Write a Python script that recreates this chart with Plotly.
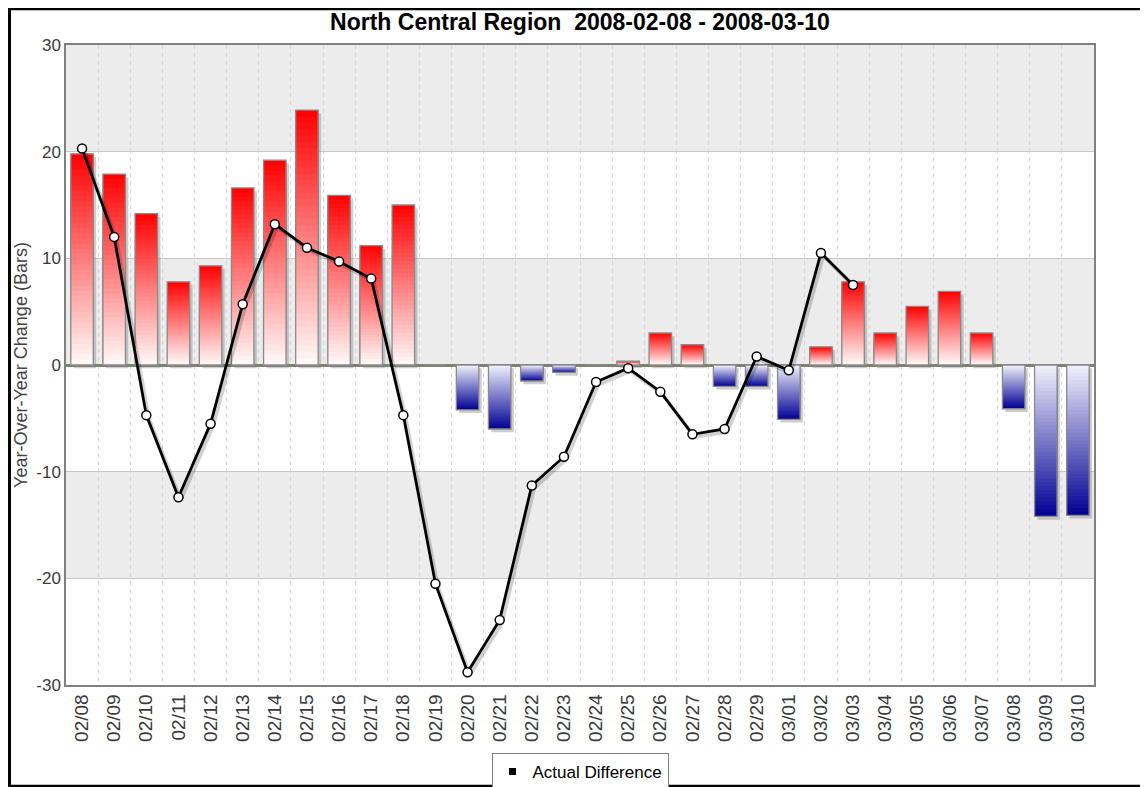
import plotly.graph_objects as go

categories = ["02/08", "02/09", "02/10", "02/11", "02/12", "02/13", "02/14", "02/15",
              "02/16", "02/17", "02/18", "02/19", "02/20", "02/21", "02/22", "02/23",
              "02/24", "02/25", "02/26", "02/27", "02/28", "02/29", "03/01", "03/02",
              "03/03", "03/04", "03/05", "03/06", "03/07", "03/08", "03/09", "03/10"]

bar_values = [19.8, 17.9, 14.2, 7.8, 9.3, 16.6, 19.2, 23.9, 15.9, 11.2, 15.0, 0.0,
              -4.2, -6.0, -1.5, -0.7, 0.0, 0.35, 3.0, 1.9, -2.0, -2.0, -5.1, 1.7,
              7.8, 3.0, 5.5, 6.9, 3.0, -4.1, -14.2, -14.1]

line_values = [20.3, 12.0, -4.7, -12.4, -5.5, 5.7, 13.2, 11.0, 9.7, 8.1, -4.7, -20.5,
               -28.8, -23.9, -11.3, -8.6, -1.6, -0.3, -2.5, -6.5, -6.0, 0.8, -0.5, 10.5,
               7.5, None, None, None, None, None, None, None]

y_ticks = [-30, -20, -10, 0, 10, 20, 30]
y_tick_text = ["-30", "-20", "-10", "0", "10", "20", "30"]

n = len(categories)
xs = list(range(n))
N_SEG = 40
BAR_W = 0.7
FONT = "Liberation Sans"

# page is offset by the 8px body margin
OFF = 8
W, H = 1148 - OFF, 787 - OFF
L, T = 66 - OFF, 45 - OFF
R = W - (1094 - OFF)
B = H - (685 - OFF)
PW, PH = W - L - R, H - T - B


def fx(p):  # figure px -> paper x
    return (p - L) / PW


def fy(p):  # figure px -> paper y
    return (H - B - p) / PH


def seg_color(v, frac):
    # frac: 0 at zero line, 1 at bar end
    if v >= 0:
        g = int(round(250 * (1 - frac)))
        return f"rgb(255,{g},{g})"
    rg = int(round(242 * (1 - frac)))
    b = int(round(252 - (252 - 148) * frac))
    return f"rgb({rg},{rg},{b})"


fig = go.Figure()

# bar shadow
fig.add_trace(go.Bar(
    x=xs, y=bar_values, base=[-0.3] * n, width=BAR_W, offset=-BAR_W / 2 + 0.09,
    marker=dict(color="rgba(130,130,130,0.40)", line=dict(width=0)),
    showlegend=False, hoverinfo="skip"))

# gradient: nested bars, largest first
for k in range(N_SEG - 1, -1, -1):
    f = (k + 0.5) / N_SEG
    fig.add_trace(go.Bar(
        x=xs, y=[v * (k + 1) / N_SEG for v in bar_values],
        width=BAR_W,
        marker=dict(color=[seg_color(v, f) for v in bar_values], line=dict(width=0)),
        showlegend=False, hoverinfo="skip"))

# outline
fig.add_trace(go.Bar(
    x=xs, y=bar_values, width=BAR_W,
    marker=dict(color="rgba(0,0,0,0)", line=dict(color="#8a8a8a", width=1.3)),
    showlegend=False, hoverinfo="skip"))

# line shadow
fig.add_trace(go.Scatter(
    x=[x + 0.07 for x in xs],
    y=[(v - 0.25) if v is not None else None for v in line_values],
    mode="lines", line=dict(color="rgba(0,0,0,0.18)", width=4),
    showlegend=False, hoverinfo="skip"))

# line
fig.add_trace(go.Scatter(
    x=xs, y=line_values, mode="lines+markers",
    line=dict(color="black", width=2.8),
    marker=dict(size=9, color="white", line=dict(color="black", width=1.5)),
    showlegend=False, connectgaps=False))

# legend entry
fig.add_trace(go.Scatter(
    x=[None], y=[None], mode="markers", name="Actual Difference",
    marker=dict(symbol="square", size=7, color="black")))

shapes = [
    dict(type="rect", xref="paper", yref="y", x0=0, x1=1, y0=a, y1=a + 10,
         fillcolor="#ececec", line=dict(width=0), layer="below")
    for a in (20, 0, -20)
]
# outer frame pieces
shapes.append(dict(type="line", xref="paper", yref="paper",
                   x0=fx(1.5), x1=fx(1.5), y0=fy(0), y1=fy(H), line=dict(color="black", width=3)))
shapes.append(dict(type="line", xref="paper", yref="paper",
                   x0=fx(0), x1=fx(W), y0=fy(1), y1=fy(1), line=dict(color="black", width=2.5)))
shapes.append(dict(type="line", xref="paper", yref="paper",
                   x0=fx(0), x1=fx(W), y0=fy(H - 1), y1=fy(H - 1), line=dict(color="black", width=2.5)))

fig.update_layout(
    width=W, height=H,
    margin=dict(l=L, r=R, t=T, b=B, autoexpand=False),
    paper_bgcolor="white", plot_bgcolor="white",
    barmode="overlay",
    title=dict(text="<b>North Central Region  2008-02-08 - 2008-03-10</b>",
               x=0.5, xanchor="center", xref="paper", y=1 - (22 - OFF) / H, yanchor="middle",
               font=dict(family=FONT, size=23, color="black")),
    font=dict(family=FONT, size=17, color="#444"),
    shapes=shapes,
    legend=dict(orientation="h", x=0.5, xanchor="center", y=fy(753 - OFF), yanchor="top",
                bordercolor="#808080", borderwidth=1, bgcolor="white",
                font=dict(family=FONT, size=17, color="black"),
                itemwidth=30),
)

fig.update_xaxes(
    range=[-0.5, n - 0.5], tickmode="array", tickvals=xs, ticktext=categories,
    tickangle=-90, showgrid=False, zeroline=False,
    showline=True, linecolor="#808080", linewidth=1.5, mirror=True,
    ticks="", tickfont=dict(size=19, color="#3a3a3a"),
    minor=dict(tickmode="array", tickvals=[i + 0.5 for i in range(n - 1)],
               showgrid=True, griddash="4px,4px", gridcolor="#d6d6d6", gridwidth=1, ticks=""),
)
fig.update_yaxes(
    range=[-30, 30], tickmode="array", tickvals=y_ticks, ticktext=y_tick_text,
    showgrid=True, gridcolor="#c8c8c0", gridwidth=1,
    zeroline=True, zerolinecolor="#808070", zerolinewidth=2.5,
    showline=True, linecolor="#808080", linewidth=1.5, mirror=True,
    ticks="", tickfont=dict(size=17, color="#3a3a3a"),
    title=dict(text="Year-Over-Year Change (Bars)", font=dict(size=18, color="#444"), standoff=4),
)

fig.write_html("out.html")
